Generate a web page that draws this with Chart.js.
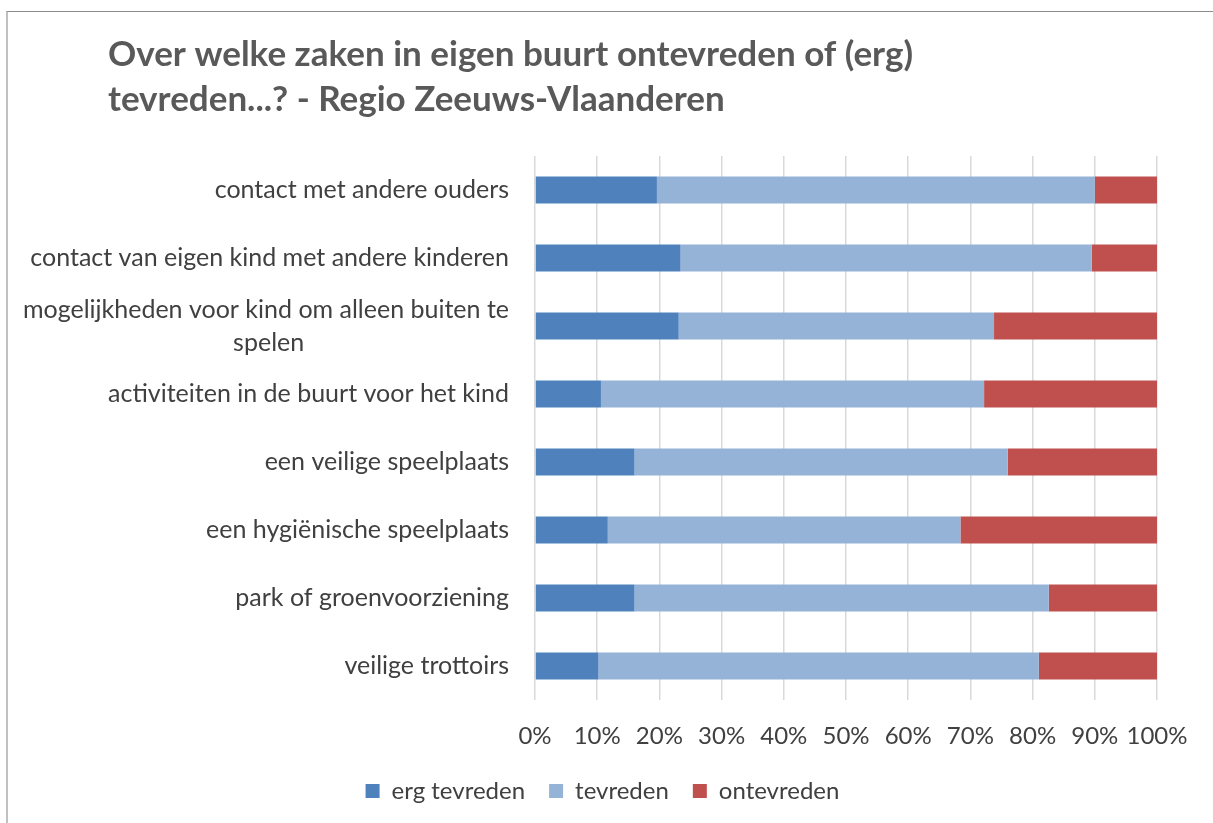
<!DOCTYPE html>
<html lang="nl">
<head>
  <meta charset="UTF-8">
  <title>Tevredenheid buurt - Regio Zeeuws-Vlaanderen</title>
  <script src="https://cdn.jsdelivr.net/npm/chart.js"></script>
  <style>
    html, body { margin: 0; padding: 0; background: #fff; overflow: hidden; }
    #wrap { position: relative; width: 1213px; height: 823px; }
    #frame {
      position: absolute; left: 6px; top: 11px; width: 1220px; height: 830px;
      border-top: 1px solid #8c8c8c; border-left: 2px solid #c0c0c0;
      pointer-events: none;
    }
  </style>
</head>
<body>
  <div id="wrap">
    <canvas id="chart" width="1213" height="823"></canvas>
    <div id="frame"></div>
  </div>

  <script>
    const categories = [
      "contact met andere ouders",
      "contact van eigen kind met andere kinderen",
      ["mogelijkheden voor kind om alleen buiten te", "spelen"],
      "activiteiten in de buurt voor het kind",
      "een veilige speelplaats",
      "een hygiënische speelplaats",
      "park of groenvoorziening",
      "veilige trottoirs"
    ];
    const ergTevreden = [19.6, 23.4, 23.1, 10.6, 16.0, 11.7, 16.0, 10.2];
    const tevreden    = [70.4, 66.1, 50.7, 61.6, 60.0, 56.7, 66.6, 70.8];
    const ontevreden  = [10.0, 10.5, 26.2, 27.8, 24.0, 31.6, 17.4, 19.0];
    const xTicks = [0, 10, 20, 30, 40, 50, 60, 70, 80, 90, 100];

    const textColor = "#404040";
    const yFont = "25px Lato";

    // meerregelige labels centreren zoals Excel dat doet
    function centerLines(ctx, lbl) {
      if (!Array.isArray(lbl)) return lbl;
      ctx.save();
      ctx.font = yFont;
      const widths = lbl.map(l => ctx.measureText(l).width);
      const sp = ctx.measureText(" ").width;
      ctx.restore();
      const maxW = Math.max(...widths);
      return lbl.map((l, i) => l + " ".repeat(Math.round((maxW - widths[i]) / 2 / sp)));
    }

    // titel en legenda iets verschuiven zoals in het origineel
    const shiftBlocks = {
      id: "shiftBlocks",
      afterLayout(chart) {
        if (chart.titleBlock) chart.titleBlock.left = 108;
        if (chart.legend) {
          chart.legend.left += 24;
          chart.legend.right += 24;
        }
      }
    };

    new Chart(document.getElementById("chart"), {
      type: "bar",
      data: {
        labels: categories,
        datasets: [
          { label: "erg tevreden", data: ergTevreden, backgroundColor: "#4F81BD" },
          { label: "tevreden", data: tevreden, backgroundColor: "#95B3D7" },
          { label: "ontevreden", data: ontevreden, backgroundColor: "#C0504D" }
        ]
      },
      options: {
        indexAxis: "y",
        responsive: false,
        animation: false,
        datasets: { bar: { barPercentage: 1, categoryPercentage: 0.395 } },
        layout: { padding: { left: 0, right: 56, top: 0, bottom: 10 } },
        scales: {
          x: {
            stacked: true,
            min: 0, max: 100,
            afterBuildTicks(scale) { scale.ticks = xTicks.map(v => ({ value: v })); },
            afterFit(scale) { scale.height = 55; },
            ticks: {
              callback: v => v + "%",
              font: { family: "Lato", size: 24 },
              color: textColor,
              padding: 22,
              autoSkip: false,
              maxRotation: 0
            },
            grid: { color: "#d9d9d9", lineWidth: 1.5, drawTicks: false },
            border: { display: false }
          },
          y: {
            stacked: true,
            afterFit(scale) { scale.width = 535; },
            ticks: {
              callback: function (v, i) { return centerLines(this.ctx, categories[i]); },
              font: { family: "Lato", size: 25, lineHeight: 1.32 },
              color: textColor,
              padding: 26,
              autoSkip: false
            },
            grid: { display: false, drawTicks: false },
            border: { display: false }
          }
        },
        plugins: {
          title: {
            display: true,
            align: "start",
            text: ["Over welke zaken in eigen buurt ontevreden of (erg)", "tevreden...? - Regio Zeeuws-Vlaanderen"],
            font: { family: "Lato", size: 35, weight: "bold", lineHeight: 1.286 },
            color: "#595959",
            padding: { top: 32, bottom: 34 }
          },
          legend: {
            position: "bottom",
            labels: {
              font: { family: "Lato", size: 24 },
              color: textColor,
              boxWidth: 14,
              boxHeight: 14,
              padding: 24
            }
          },
          tooltip: { enabled: false }
        }
      },
      plugins: [shiftBlocks]
    });
  </script>
</body>
</html>
